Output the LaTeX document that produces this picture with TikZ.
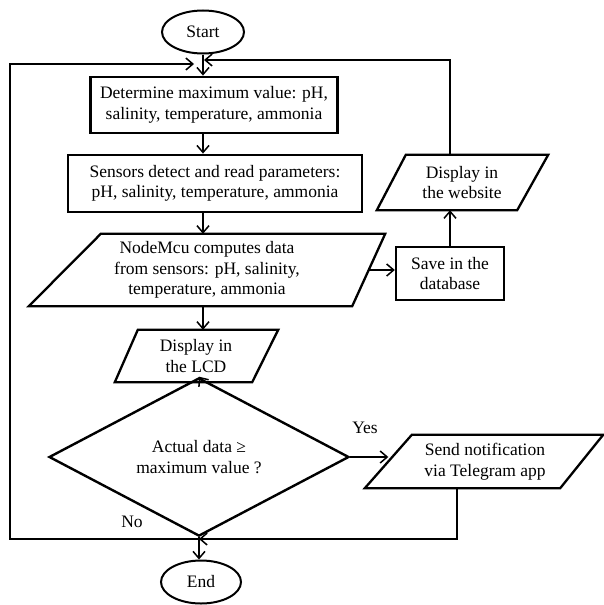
\documentclass[tikz,border=0pt]{standalone}
\usepackage{fontspec}
\setmainfont{Liberation Serif}
\usetikzlibrary{arrows.meta,shapes.geometric}
\begin{document}
\begin{tikzpicture}[x=1pt,y=-1pt,
  every node/.style={font=\fontsize{17.5}{20.5}\selectfont, align=center, inner sep=0pt},
  thickbox/.style={draw, rectangle, line width=2.8pt},
  plainbox/.style={draw, rectangle, line width=2.4pt},
  term/.style={draw, ellipse, line width=2pt},
  decision/.style={draw, diamond, line width=2.4pt},
  para/.style={rectangle, draw=none},
  outline/.style={draw, line width=2.3pt, line join=miter},
  conn/.style={line width=1.5pt},
  arr/.style={conn, -{Straight Barb[length=7pt,width=12pt,line width=1.5pt]}},
  lbl/.style={font=\fontsize{17.5}{20.5}\selectfont}
]
\fill[white] (0,0) rectangle (604,605);
\useasboundingbox (0,0) rectangle (604,605);

% nodes
\node[term, minimum width=82pt, minimum height=43pt] (start) at (203,32) {Start};
\node[thickbox, minimum width=247pt, minimum height=56pt] (b1) at (214,105)
  {Determine maximum value: pH,\\salinity, temperature, ammonia};
\node[thickbox, minimum width=294pt, minimum height=57pt] (b2) at (215,183.5)
  {Sensors detect and read parameters:\\pH, salinity, temperature, ammonia};
\node[para, minimum width=323pt, minimum height=72pt] (nm) at (207,270)
  {NodeMcu computes data\\from sensors: pH, salinity,\\temperature, ammonia};
\node[plainbox, minimum width=108pt, minimum height=53pt] (save) at (450,273.5)
  {Save in the\\database};
\node[para, minimum width=141pt, minimum height=55pt] (web) at (462,182.5)
  {Display in\\the website};
\node[para, minimum width=138pt, minimum height=52pt] (lcd) at (196,356)
  {Display in\\the LCD};
\node[decision, minimum width=300pt, minimum height=111pt] (dec) at (199,457)
  {Actual data \char"2265\\maximum value ?};
\node[para, minimum width=193pt, minimum height=53pt] (tel) at (485,461.5)
  {Send notification\\via Telegram app};
\node[term, minimum width=80pt, minimum height=43pt] (end) at (201,582) {End};
\node[lbl] (yes) at (365,428) {Yes};
\node[lbl] (no) at (132,522) {No};

% parallelogram outlines
\draw[outline] ([xshift=55.5pt]nm.north west) -- ([xshift=16.5pt]nm.north east)
  -- ([xshift=-16.5pt]nm.south east) -- ([xshift=-16.5pt]nm.south west) -- cycle;
\draw[outline] ([xshift=14.5pt]web.north west) -- ([xshift=15.5pt]web.north east)
  -- ([xshift=-15.5pt]web.south east) -- ([xshift=-14.5pt]web.south west) -- cycle;
\draw[outline] ([xshift=11pt]lcd.north west) -- ([xshift=13pt]lcd.north east)
  -- ([xshift=-13pt]lcd.south east) -- ([xshift=-12pt]lcd.south west) -- cycle;
\draw[outline] ([xshift=23.5pt]tel.north west) -- ([xshift=21.5pt]tel.north east)
  -- ([xshift=-21.5pt]tel.south east) -- ([xshift=-23.5pt]tel.south west) -- cycle;

% helper coordinates
\coordinate (tr) at (450,60);
\coordinate (tl) at (10,64);
\coordinate (bl) at (10,539);

% connectors
\draw[arr] (start.south) -- (start.south |- b1.north);
\draw[arr] (b1.south -| start.south) -- (b2.north -| start.south);
\draw[arr] (b2.south -| start.south) -- (nm.north -| start.south);
\draw[arr] (nm.south -| start.south) -- (lcd.north -| start.south);
\draw[arr] (lcd.south -| start.south) -- (dec.north);
\draw[arr] (dec.east) -- (dec.east -| tel.west);
\draw[arr] (nm.east) -- (nm.east -| save.west);
\draw[arr] (save.north) -- (save.north |- web.south);
\draw[arr] (web.north -| save.north) -- (tr) -- ([xshift=1pt]tr -| start.south);
\draw[arr] (dec.south |- bl) -- (bl) -- (tl) -- ([xshift=-9pt]tl -| start.south);
\draw[arr] ([xshift=-28pt]tel.south) |- (dec.south |- bl);
\draw[arr] (dec.south) -- (dec.south |- end.north);
\end{tikzpicture}
\end{document}
